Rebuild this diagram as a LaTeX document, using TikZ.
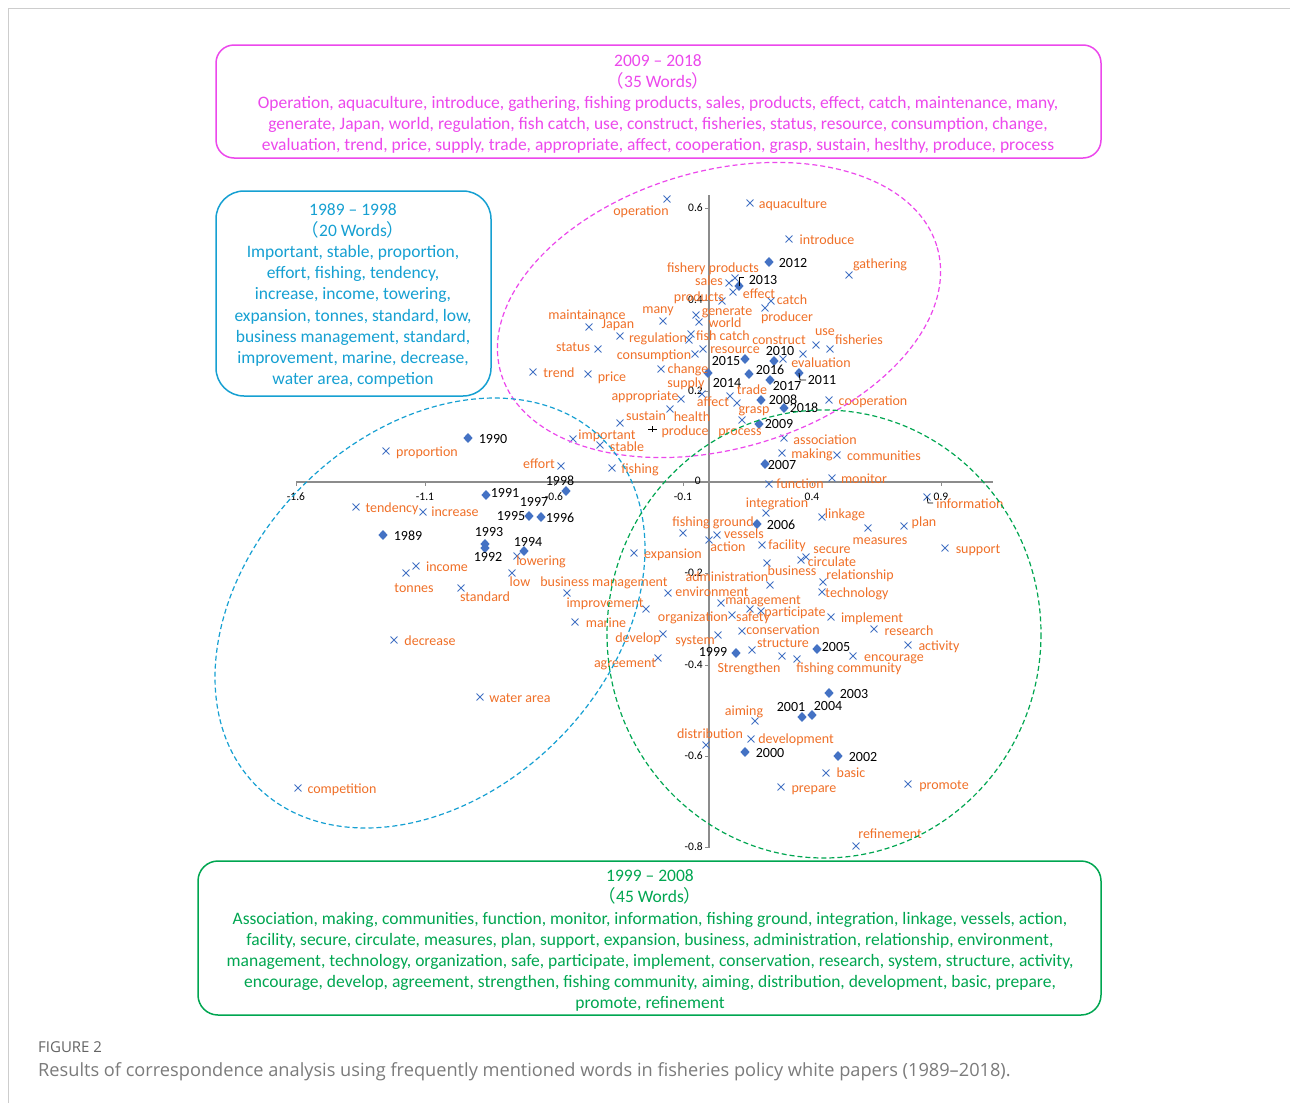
\documentclass[tikz,border=0pt]{standalone}
\usepackage{fontspec}
\setmainfont{Carlito}
\newfontfamily\cjk{Noto Sans CJK JP}
\newfontfamily\capfont{Open Sans}
\usetikzlibrary{shapes.geometric,shapes.misc}
\definecolor{pinkc}{RGB}{236,72,236}
\definecolor{bluec}{RGB}{22,160,210}
\definecolor{greenc}{RGB}{0,166,81}
\definecolor{orangec}{RGB}{240,112,40}
\definecolor{markc}{RGB}{68,114,196}
\definecolor{axisc}{RGB}{140,140,140}
\definecolor{framec}{RGB}{205,205,205}
\definecolor{capc}{RGB}{100,100,100}
\begin{document}
\begin{tikzpicture}[x=1pt,y=-1pt,
  lab/.style={font=\fontsize{14}{16}\selectfont, text=orangec, inner sep=0pt, anchor=base, yshift=-4.5pt},
  yr/.style={lab, text=black},
  ticklab/.style={font=\fontsize{11.5}{13}\selectfont, text=black, inner sep=0pt, anchor=base, yshift=-3.8pt},
  xm/.style={cross out, draw=markc, line width=0.9pt, minimum size=6pt, inner sep=0pt},
  dm/.style={diamond, fill=markc, minimum width=9.5pt, minimum height=10pt, inner sep=0pt},
  boxtxt/.style={font=\fontsize{17.5}{19}\selectfont, inner sep=0pt, anchor=base, yshift=-6pt},
  ell/.style={dashed, dash pattern=on 5pt off 3pt, line width=1.2pt},
  axisline/.style={draw=axisc, line width=1.4pt},
  leader/.style={draw=black, line width=0.8pt}]
\path[use as bounding box, fill=white] (0,0) rectangle (1290,1103);
% frame
\draw[framec, line width=1pt] (8,1103) -- (8,8) -- (1290,8);

% boxes
\draw[pinkc, line width=1.5pt, rounded corners=18pt] (216,45) rectangle (1101,158);
\draw[bluec, line width=1.5pt, rounded corners=28pt] (216,191) rectangle (491,396);
\draw[greenc, line width=1.5pt, rounded corners=20pt] (198,861) rectangle (1101,1015);

% pink box text
\foreach \yy/\t [count=\i] in {60/{2009 – 2018},81/{{\cjk （}35 Words{\cjk ）}},
  102/{Operation, aquaculture, introduce, gathering, fishing products, sales, products, effect, catch, maintenance, many,},
  123/{generate, Japan, world, regulation, fish catch, use, construct, fisheries, status, resource, consumption, change,},
  144/{evaluation, trend, price, supply, trade, appropriate, affect, cooperation, grasp, sustain, heslthy, produce, process}}
  \node[boxtxt, text=pinkc] (pt\i) at (658,\yy) {\t};

% blue box text
\foreach \yy/\t [count=\i] in {209/{1989 – 1998},230/{{\cjk （}20 Words{\cjk ）}},
  251/{Important, stable, proportion,},272/{effort, fishing, tendency,},
  293/{increase, income, towering,},315/{expansion, tonnes, standard, low,},
  336/{business management, standard,},357/{improvement, marine, decrease,},
  378/{water area, competion}}
  \node[boxtxt, text=bluec] (bt\i) at (353,\yy) {\t};

% green box text
\foreach \yy/\t [count=\i] in {875/{1999 – 2008},896/{{\cjk （}45 Words{\cjk ）}},
  918/{Association, making, communities, function, monitor, information, fishing ground, integration, linkage, vessels, action,},
  939/{facility, secure, circulate, measures, plan, support, expansion, business, administration, relationship, environment,},
  960/{management, technology, organization, safe, participate, implement, conservation, research, system, structure, activity,},
  981/{encourage, develop, agreement, strengthen, fishing community, aiming, distribution, development, basic, prepare,},
  1002/{promote, refinement}}
  \node[boxtxt, text=greenc] (gt\i) at (650,\yy) {\t};

% axes
\coordinate (xl) at (296,482); \coordinate (xr) at (993,482);
\coordinate (yt) at (709,195); \coordinate (yb) at (709,848);
\draw[axisline] (xl) -- (xr);
\draw[axisline] (yt) -- (yb);
\foreach \xx/\t [count=\i] in {296/-1.6,425/-1.1,554/-0.6,683/-0.1,812/0.4,941/0.9}{
  \draw[axisc, line width=1pt] (\xx,482) -- (\xx,486);
  \node[ticklab] (xt\i) at (\xx,497) {\t};
}
\foreach \yy/\t [count=\i] in {208/0.6,300/0.4,391/0.2,573/-0.2,665/-0.4,756/-0.6,847/-0.8}{
  \draw[axisc, line width=1pt] (705,\yy) -- (709,\yy);
  \node[ticklab, anchor=base east] (yt\i) at (703,\yy) {\t};
}
\node[ticklab, anchor=base east] (zero) at (701,481) {0};

% cross markers
\foreach \xx/\yy [count=\i] in {667/199,750/203,789/239,849/275,729/283,735/278,733/292,722/301,771/301,765/308,
  589/327,663/321,696/315,699/322,620/336,691/334,689/340,816/345,830/349,598/349,
  695/354,703/349,783/359,803/354,533/372,588/374,661/369,681/399,702/394,730/396,
  737/403,829/400,670/409,620/423,742/420,573/439,784/438,600/445,782/453,837/455,
  561/466,612/468,832/478,769/484,927/497,766/513,822/517,904/526,868/528,683/533,
  717/535,709/540,762/545,945/548,634/553,801/560,806/557,386/451,356/507,423/512,
  517/556,416/566,406/573,512/573,461/588,567/593,646/609,575/622,663/634,394/640,
  658/658,480/697,298/788,767/563,823/582,822/592,770/585,668/593,721/603,750/609,
  761/611,732/615,831/617,742/631,874/629,718/635,752/650,908/645,853/656,782/656,
  797/659,755/721,706/745,751/739,826/773,781/787,908/784,856/846}
  \node[xm] (m\i) at (\xx,\yy) {};

% produce marker (black)
\coordinate (prod) at (653,429);
\draw[leader] ([xshift=-5pt]prod) -- ([xshift=4pt]prod);
\draw[leader] ([shift={(-1,-3)}]prod) -- ([shift={(-1,3)}]prod);

% diamonds with year labels
\foreach \dx/\dy/\lx/\ly/\t in {769/262/793/263/2012,739/286/763/280/2013,745/359/726/361/2015,
  774/361/780/351/2010,708/373/727/383/2014,749/374/770/370/2016,799/373/822/380/2011,
  770/380/787/386/2017,761/400/783/400/2008,784/408/804/408/2018,759/424/779/424/2009,
  765/464/782/465/2007,566/491/560/481/1998,757/524/781/525/2006,468/438/493/439/1990,
  486/495/505/493/1991,529/516/511/516/1995,541/517/560/518/1996,383/535/408/536/1989,
  485/544/489/532/1993,485/548/488/557/1992,524/551/528/542/1994,736/653/713/652/1999,
  817/649/836/647/2005,829/693/854/694/2003,802/717/791/707/2001,812/715/828/706/2004,
  745/752/770/753/2000,838/756/863/757/2002}{
  \node[dm] (d\t) at (\dx,\dy) {};
  \node[yr] (y\t) at (\lx,\ly) {\t};
}
\node[yr] (y1997) at (534,502) {1997};

% leader lines
\draw[leader] (d2013.center) -- ++(0,-9) -- ++(5,0);
\draw[leader] (d2011.center) -- ++(1,7) -- ++(6,0);
\draw[leader] (m45.center) -- ++(1,6) -- ++(5,0);

% word labels
\foreach \xx/\yy/\t [count=\i] in {641/211/operation,793/204/aquaculture,827/240/introduce,880/264/gathering,
  713/268/fishery products,709/281/sales,759/294/effect,699/297/products,792/300/catch,787/317/producer,
  587/315/maintainance,658/309/many,727/311/generate,725/323/world,618/324/Japan,658/338/regulation,
  723/336/fish catch,779/340/construct,825/331/use,859/340/fisheries,573/347/status,654/355/consumption,
  735/349/resource,821/363/evaluation,559/373/trend,612/377/price,688/369/change,686/383/supply,
  645/396/appropriate,713/402/affect,752/390/trade,873/401/cooperation,754/409/grasp,646/416/sustain,
  692/417/health,685/431/produce,740/431/process,607/435/important,825/440/association,627/447/stable,
  812/454/making,884/456/communities,539/464/effort,640/469/fishing,864/479/monitor,800/484/function,
  970/504/information,777/503/integration,845/514/linkage,924/522/plan,880/540/measures,
  713/522/fishing ground,744/534/vessels,728/547/action,787/545/facility,832/549/secure,978/549/support,
  673/554/expansion,427/452/proportion,392/508/tendency,455/512/increase,541/561/lowering,447/567/income,
  414/588/tonnes,520/582/low,485/597/standard,604/582/business management,605/603/improvement,
  606/623/marine,638/638/develop,430/641/decrease,625/663/agreement,520/698/water area,342/789/competition,
  727/577/administration,792/571/business,832/562/circulate,860/575/relationship,857/593/technology,
  712/592/environment,763/600/management,795/612/participate,753/617/safety,693/617/organization,
  872/618/implement,783/630/conservation,909/631/research,695/640/system,783/643/structure,
  939/646/activity,894/657/encourage,749/668/Strengthen,849/668/fishing community,744/711/aiming,
  710/734/distribution,796/739/development,851/773/basic,814/788/prepare,944/785/promote,890/834/refinement}
  \node[lab] (w\i) at (\xx,\yy) {\t};

% dashed ellipses
\draw[ell, pinkc, rotate around={16:(719,310)}] (719,310) ellipse [x radius=227, y radius=139];
\draw[ell, bluec, rotate around={45:(430,613)}] (430,613) ellipse [x radius=245, y radius=180];
\draw[ell, greenc] (824,634) ellipse [x radius=217, y radius=224];

% caption
\node[font=\capfont\fontsize{15}{17}\selectfont, text=capc, inner sep=0pt, anchor=base west] (fig) at (38,1052) {FIGURE 2};
\node[font=\capfont\fontsize{18.2}{21}\selectfont, text=capc!85, inner sep=0pt, anchor=base west] (cap) at (38,1076) {Results of correspondence analysis using frequently mentioned words in fisheries policy white papers (1989–2018).};
\end{tikzpicture}
\end{document}
